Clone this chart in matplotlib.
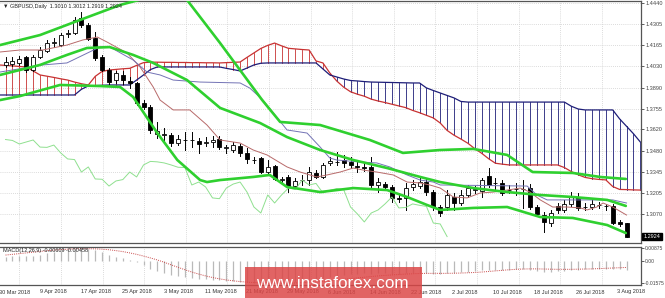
import numpy as np
import matplotlib
matplotlib.use("Agg")
import matplotlib.pyplot as plt
from matplotlib.patches import Rectangle
from matplotlib.transforms import blended_transform_factory

plt.rcParams['font.family'] = ['Liberation Sans', 'DejaVu Sans']

# ---------------- data ----------------
opens = [1.4038,1.4044,1.4051,1.4090,1.4005,1.4090,1.4129,1.4180,1.4167,1.4239,
         1.4245,1.4343,1.4297,1.4213,1.4090,1.4005,1.3940,1.3973,1.3934,1.3921,
         1.3791,1.3765,1.3590,1.3583,1.3583,1.3531,1.3551,1.3554,1.3544,1.3531,
         1.3538,1.3557,1.3499,1.3486,1.3512,1.3467,1.3421,1.3434,1.3343,1.3382,
         1.3291,1.3311,1.3252,1.3289,1.3291,1.3337,1.3311,1.3404,1.3408,1.3421,
         1.3408,1.3379,1.3376,1.3376,1.3259,1.3265,1.3246,1.3175,1.3175,1.3246,
         1.3252,1.3278,1.3213,1.3116,1.3116,1.3181,1.3142,1.3194,1.3226,1.3220,
         1.3317,1.3272,1.3272,1.3226,1.3230,1.3233,1.3239,1.3116,1.3064,1.3012,
         1.3123,1.3097,1.3136,1.3181,1.3116,1.3116,1.3129,1.3123,1.3123,1.3019,
         1.3010]
highs = [1.4090,1.4090,1.4096,1.4096,1.4103,1.4154,1.4200,1.4213,1.4245,1.4265,
         1.4349,1.4382,1.4310,1.4252,1.4103,1.4018,1.3999,1.3999,1.3960,1.3927,
         1.3810,1.3778,1.3668,1.3629,1.3596,1.3583,1.3603,1.3603,1.3564,1.3570,
         1.3575,1.3575,1.3518,1.3538,1.3525,1.3499,1.3441,1.3441,1.3421,1.3389,
         1.3311,1.3324,1.3304,1.3324,1.3376,1.3356,1.3402,1.3441,1.3473,1.3454,
         1.3441,1.3421,1.3410,1.3441,1.3304,1.3278,1.3259,1.3200,1.3272,1.3291,
         1.3317,1.3304,1.3226,1.3129,1.3226,1.3207,1.3226,1.3259,1.3252,1.3304,
         1.3369,1.3304,1.3291,1.3259,1.3272,1.3291,1.3265,1.3129,1.3084,1.3097,
         1.3142,1.3162,1.3213,1.3207,1.3142,1.3162,1.3149,1.3136,1.3136,1.3032,
         1.3012]
lows = [1.4025,1.4031,1.4038,1.3992,1.3999,1.4083,1.4122,1.4154,1.4161,1.4219,
        1.4239,1.4284,1.4200,1.4070,1.3999,1.3914,1.3921,1.3914,1.3888,1.3778,
        1.3753,1.3596,1.3564,1.3551,1.3512,1.3518,1.3486,1.3505,1.3467,1.3512,
        1.3505,1.3493,1.3467,1.3473,1.3447,1.3402,1.3402,1.3337,1.3324,1.3291,
        1.3272,1.3213,1.3239,1.3259,1.3259,1.3304,1.3304,1.3389,1.3389,1.3376,
        1.3369,1.3343,1.3350,1.3246,1.3213,1.3233,1.3149,1.3150,1.3097,1.3226,
        1.3239,1.3194,1.3097,1.3058,1.3097,1.3097,1.3129,1.3181,1.3207,1.3181,
        1.3246,1.3226,1.3194,1.3207,1.3194,1.3110,1.3103,1.3058,1.2954,1.2993,
        1.3077,1.3084,1.3123,1.3097,1.3097,1.3103,1.3110,1.3097,1.3006,1.2993,
        1.2919]
closes = [1.4057,1.4064,1.4077,1.4005,1.4090,1.4135,1.4180,1.4187,1.4232,1.4245,
          1.4330,1.4297,1.4206,1.4083,1.4005,1.3927,1.3986,1.3940,1.3921,1.3791,
          1.3765,1.3616,1.3609,1.3590,1.3531,1.3557,1.3554,1.3548,1.3525,1.3538,
          1.3551,1.3505,1.3503,1.3518,1.3467,1.3428,1.3424,1.3343,1.3376,1.3298,
          1.3296,1.3252,1.3285,1.3294,1.3343,1.3311,1.3389,1.3412,1.3409,1.3402,
          1.3389,1.3374,1.3372,1.3259,1.3278,1.3246,1.3175,1.3170,1.3239,1.3265,
          1.3278,1.3213,1.3116,1.3077,1.3194,1.3142,1.3194,1.3239,1.3230,1.3291,
          1.3259,1.3269,1.3207,1.3224,1.3236,1.3230,1.3116,1.3071,1.3019,1.3077,
          1.3097,1.3136,1.3181,1.3110,1.3113,1.3136,1.3127,1.3120,1.3012,1.3006,
          1.2924]

# Ichimoku cloud, one value per bar from bar -1 to bar 92
span_a = [1.4038,1.4035,1.4032,1.4028,1.4025,1.3999,1.3973,1.3965,1.3957,1.3948,
          1.3940,1.3927,1.3916,1.3908,1.3964,1.3996,1.4005,1.4009,1.4013,1.4016,
          1.4035,1.4053,1.4056,1.4056,1.4055,1.4055,1.4054,1.4054,1.4053,1.4053,
          1.4052,1.4052,1.4051,1.4053,1.4055,1.4057,1.4087,1.4116,1.4145,1.4165,
          1.4180,1.4162,1.4146,1.4142,1.4138,1.4135,1.4064,1.4051,1.3986,1.3934,
          1.3894,1.3864,1.3848,1.3835,1.3816,1.3804,1.3794,1.3783,1.3772,1.3761,
          1.3743,1.3728,1.3711,1.3694,1.3661,1.3613,1.3582,1.3557,1.3530,1.3495,
          1.3465,1.3430,1.3400,1.3394,1.3389,1.3389,1.3389,1.3389,1.3389,1.3389,
          1.3389,1.3389,1.3372,1.3346,1.3325,1.3308,1.3300,1.3295,1.3292,1.3249,
          1.3230,1.3229,1.3227,1.3226]
span_b = [1.3843,1.3843,1.3843,1.3843,1.3843,1.3843,1.3843,1.3843,1.3843,1.3843,
          1.3843,1.3843,1.3880,1.3902,1.3904,1.3906,1.3908,1.3908,1.3908,1.3908,
          1.3940,1.3973,1.4008,1.4025,1.4025,1.4025,1.4025,1.4025,1.4025,1.4025,
          1.4025,1.4025,1.4025,1.4016,1.4008,1.3999,1.4018,1.4038,1.4049,1.4051,
          1.4051,1.4051,1.4051,1.4051,1.4051,1.4051,1.4051,1.4012,1.3973,1.3960,
          1.3947,1.3937,1.3934,1.3930,1.3927,1.3926,1.3925,1.3924,1.3923,1.3922,
          1.3921,1.3921,1.3889,1.3872,1.3856,1.3840,1.3824,1.3801,1.3797,1.3797,
          1.3797,1.3797,1.3797,1.3797,1.3797,1.3797,1.3797,1.3797,1.3797,1.3797,
          1.3797,1.3797,1.3797,1.3770,1.3752,1.3746,1.3746,1.3746,1.3746,1.3746,
          1.3688,1.3640,1.3592,1.3538]

# Tenkan / Kijun / Bollinger read-off points (bar index, price)
tenkan_x = [-0.8,2.1,5.4,8.9,11.2,13.3,14.7,17.6,19.5,21.4,22.4,24.3,26.7,29.2,31.1,34,35.9,37.9,40.8,42.7,45.1,46.6,48.5,50.4,51.8,53.8,56.2,58.2,60.1,61.5,63,64.9,66.9,68.8,70.7,72.7,74.6,76,77.5,79.3,81.4,83.3,84.3,85.7,86.6,88,89.5,90]
tenkan_y = [1.4122,1.4135,1.4135,1.4167,1.4200,1.4219,1.4187,1.4116,1.4025,1.3895,1.3810,1.3746,1.3746,1.3648,1.3551,1.3531,1.3486,1.3454,1.3376,1.3343,1.3311,1.3324,1.3343,1.3369,1.3356,1.3343,1.3324,1.3278,1.3272,1.3259,1.3239,1.3181,1.3175,1.3207,1.3213,1.3226,1.3239,1.3213,1.3162,1.3116,1.3116,1.3110,1.3097,1.3116,1.3142,1.3116,1.3077,1.3064]
kijun_x = [-0.8,5.4,8.9,13.7,15.1,18.5,20.5,22.4,24.3,28.2,34,35.4,37.3,40.8,43.7,45.6,47,48,51.4,53.8,55.7,58.2,60.1,62,63,75.6,77,78.5,88,90]
kijun_y = [1.3992,1.4038,1.4051,1.4155,1.4155,1.4070,1.3992,1.3973,1.3940,1.3927,1.3921,1.3888,1.3810,1.3616,1.3596,1.3505,1.3434,1.3421,1.3408,1.3402,1.3376,1.3324,1.3291,1.3278,1.3259,1.3252,1.3194,1.3162,1.3162,1.3142]
bb_up_x = [-0.8,5.0,10.8,16.6,20.9,23.8,26.3,31.1,37.2,39.8,45.6,52.8,57.6,63.0,67.8,72.7,76.4,82.2,86.2,89.9]
bb_up_y = [1.4167,1.4232,1.4330,1.4427,1.4479,1.4498,1.4460,1.4180,1.3810,1.3668,1.3648,1.3551,1.3467,1.3486,1.3493,1.3454,1.3343,1.3337,1.3311,1.3298]
bb_mid_x = [-0.8,5.0,8.9,11.8,15.1,18.5,21.4,26.3,31.1,36.9,40.8,45.6,50.4,55.3,60.1,63.0,67.8,72.7,77.5,82.2,87.2,89.9]
bb_mid_y = [1.3973,1.4038,1.4103,1.4148,1.4154,1.4103,1.4051,1.3940,1.3759,1.3661,1.3570,1.3486,1.3421,1.3369,1.3311,1.3278,1.3239,1.3213,1.3194,1.3181,1.3162,1.3123]
bb_lo_x = [-0.8,2.1,7.9,13.7,16.6,18.5,22.0,24.9,28.2,29.2,31.1,35.9,38.3,40.8,45.6,50.4,55.3,58.2,61.1,63.0,67.8,72.7,77.5,82.2,87.2,89.9]
bb_lo_y = [1.3810,1.3836,1.3908,1.3901,1.3895,1.3830,1.3596,1.3421,1.3291,1.3278,1.3291,1.3311,1.3324,1.3246,1.3213,1.3239,1.3226,1.3181,1.3129,1.3097,1.3110,1.3116,1.3051,1.3045,1.2999,1.2947]

macd_main = [0.0030,0.0032,0.0035,0.0033,0.0035,0.0042,0.0052,0.0060,0.0068,0.0075,
             0.0082,0.0086,0.0084,0.0075,0.0058,0.0040,0.0028,0.0018,0.0008,-0.0010,
             -0.0030,-0.0055,-0.0070,-0.0085,-0.0098,-0.0108,-0.0115,-0.0120,-0.0125,-0.0128,
             -0.0130,-0.0135,-0.0140,-0.0142,-0.0147,-0.0150,-0.0153,-0.0155,-0.0157,-0.0157,
             -0.0156,-0.0154,-0.0150,-0.0145,-0.0140,-0.0132,-0.0125,-0.0115,-0.0108,-0.0100,
             -0.0095,-0.0090,-0.0088,-0.0090,-0.0088,-0.0087,-0.0090,-0.0092,-0.0088,-0.0085,
             -0.0082,-0.0082,-0.0090,-0.0095,-0.0088,-0.0085,-0.0080,-0.0075,-0.0070,-0.0066,
             -0.0064,-0.0062,-0.0064,-0.0063,-0.0060,-0.0060,-0.0065,-0.0070,-0.0076,-0.0075,
             -0.0072,-0.0068,-0.0064,-0.0062,-0.0060,-0.0058,-0.0056,-0.0055,-0.0057,-0.0060,
             -0.0061]
macd_signal = [0.0040,0.0045,0.0050,0.0055,0.0060,0.0065,0.0070,0.0075,0.0078,0.0081,
               0.0083,0.0084,0.0084,0.0083,0.0081,0.0077,0.0071,0.0064,0.0055,0.0045,
               0.0033,0.0020,0.0006,-0.0010,-0.0028,-0.0045,-0.0062,-0.0078,-0.0092,-0.0105,
               -0.0116,-0.0125,-0.0133,-0.0139,-0.0144,-0.0148,-0.0151,-0.0153,-0.0154,-0.0155,
               -0.0155,-0.0155,-0.0154,-0.0152,-0.0150,-0.0147,-0.0143,-0.0139,-0.0134,-0.0129,
               -0.0124,-0.0119,-0.0114,-0.0109,-0.0105,-0.0101,-0.0098,-0.0095,-0.0092,-0.0090,
               -0.0088,-0.0087,-0.0087,-0.0087,-0.0087,-0.0086,-0.0085,-0.0083,-0.0081,-0.0078,
               -0.0074,-0.0070,-0.0066,-0.0062,-0.0059,-0.0057,-0.0056,-0.0056,-0.0057,-0.0058,
               -0.0059,-0.0059,-0.0059,-0.0058,-0.0057,-0.0056,-0.0054,-0.0052,-0.0050,-0.0048,
               -0.0046]

price_ticks = [1.4440,1.4305,1.4165,1.4030,1.3890,1.3755,1.3620,1.3480,1.3345,1.3205,1.3070]
macd_ticks = [0.00875, 0.0, -0.01575]
macd_tick_labels = ["0.00875", "0.00", "-0.01575"]
date_labels = ["30 Mar 2018","9 Apr 2018","17 Apr 2018","25 Apr 2018","3 May 2018","11 May 2018",
               "21 May 2018","29 May 2018","6 Jun 2018","14 Jun 2018","22 Jun 2018","2 Jul 2018",
               "10 Jul 2018","18 Jul 2018","26 Jul 2018","3 Aug 2018"]
header = "GBPUSD,Daily  1.3010 1.3012 1.2919 1.2924"
macd_header = "MACD(12,26,9) -0.00609 -0.00458"

# ---------------- figure ----------------
W, H = 665, 298
fig = plt.figure(figsize=(W / 100, H / 100), dpi=100)
fig.patch.set_facecolor("white")

def fx(px):
    return px / W

def fy(py):
    return 1 - py / H

ax = fig.add_axes([0, fy(243), fx(641), (243 - 1) / H])
ax2 = fig.add_axes([0, fy(285), fx(641), (285 - 247) / H])

n = len(closes)
xs = np.arange(n)
cloud_x = np.arange(-1, -1 + len(span_a))
XL = (-0.8, 92.1)
FS = 4.0

for a in (ax, ax2):
    a.set_xlim(*XL)
    a.set_facecolor("white")
    for s in a.spines.values():
        s.set_color("#555555")
        s.set_linewidth(0.9)
    a.spines["left"].set_visible(False)
    a.set_xticks([])
    a.yaxis.tick_right()
    a.tick_params(axis="y", labelsize=FS, length=2, width=0.6, pad=1,
                  colors="#444444")

ax.set_ylim(1.28824, 1.4453)
ax.set_yticks(price_ticks)
ax.set_yticklabels([f"{v:.4f}" for v in price_ticks])

# grid
gcol = "#cfcfcf"
for gx in np.arange(2, 93, 6.03):
    ax.axvline(gx, color=gcol, lw=0.6, ls=(0, (1, 1.5)), zorder=0)
    ax2.axvline(gx, color=gcol, lw=0.6, ls=(0, (1, 1.5)), zorder=0)
for t in price_ticks:
    ax.axhline(t, color=gcol, lw=0.6, ls=(0, (1, 1.5)), zorder=0)

# cloud
RED, NAVY = "#c83232", "#1e1e78"
for xb, va, vb in zip(cloud_x, span_a, span_b):
    ax.plot([xb, xb], [va, vb], color=RED if va >= vb else NAVY, lw=0.6, zorder=1)
ax.plot(cloud_x, span_a, color=RED, lw=0.9, zorder=2)
ax.plot(cloud_x, span_b, color=NAVY, lw=0.9, zorder=2)

# candles
bw = 0.58
for i in range(n):
    o, h, l, c = opens[i], highs[i], lows[i], closes[i]
    ax.plot([i, i], [l, h], color="black", lw=0.7, zorder=3)
    lo_, hi_ = min(o, c), max(o, c)
    hgt = max(hi_ - lo_, 0.00012)
    fc = "black" if c < o else "white"
    ax.add_patch(Rectangle((i - bw / 2, lo_), bw, hgt, facecolor=fc,
                           edgecolor="black", lw=0.6, zorder=4))

# chikou (close shifted back 26 bars)
ax.plot(xs[:n - 26], closes[26:], color="#8fe08f", lw=0.7, zorder=5)
ax.plot(tenkan_x, tenkan_y, color="#b86a6a", lw=0.7, zorder=5)
ax.plot(kijun_x, kijun_y, color="#7373b5", lw=0.7, zorder=5)
for bx, by in ((bb_up_x, bb_up_y), (bb_mid_x, bb_mid_y), (bb_lo_x, bb_lo_y)):
    ax.plot(bx, by, color="#2fd02f", lw=1.9, zorder=6, solid_capstyle="round")

# header + price box
ax.text(0.004, 0.987, "\u25BC " + header, transform=ax.transAxes, fontsize=FS,
        va="top", ha="left", color="#222222", zorder=10)
tr = blended_transform_factory(ax.transAxes, ax.transData)
ax.text(1.004, closes[-1], f"{closes[-1]:.4f}", transform=tr, fontsize=FS,
        color="white", va="center", ha="left", clip_on=False,
        bbox=dict(boxstyle="square,pad=0.25", fc="black", ec="black"), zorder=10)

# MACD
ax2.set_ylim(-0.0168, 0.0096)
ax2.set_yticks(macd_ticks)
ax2.set_yticklabels(macd_tick_labels)
ax2.tick_params(axis="y", labelsize=3.6)
ax2.vlines(xs, 0, macd_main, color="#b9b9b9", lw=0.9, zorder=2)
ax2.plot(xs, macd_signal, color="#c84848", lw=0.7, ls=(0, (1, 1.2)), zorder=3)
ax2.text(0.004, 0.97, macd_header, transform=ax2.transAxes, fontsize=FS,
         va="top", ha="left", color="#222222")

# date labels
for k, lab in enumerate(date_labels):
    fig.text(fx(-1.2 + 41.2 * k), fy(292), lab, fontsize=FS, va="center",
             ha="left", color="#333333")

# watermark
fig.patches.append(Rectangle((fx(245), 0), fx(177), 31 / H, transform=fig.transFigure,
                             facecolor="#dc4646", alpha=0.84, edgecolor="none", zorder=20))
fig.text(fx(332), fy(284), "www.instaforex.com", color="white", fontsize=12.3,
         ha="center", va="center", zorder=21)

fig.savefig("out.png", dpi=100, facecolor="white")
